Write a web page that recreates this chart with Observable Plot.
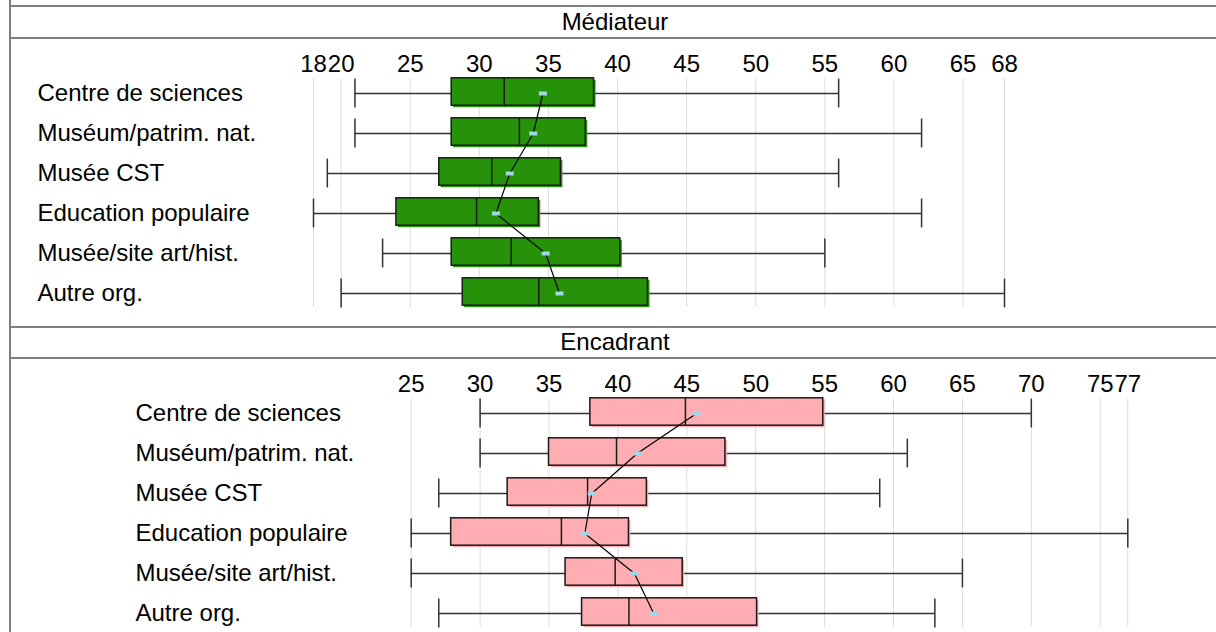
<!DOCTYPE html>
<html><head><meta charset="utf-8">
<script src="https://cdn.jsdelivr.net/npm/d3@7"></script>
<script src="https://cdn.jsdelivr.net/npm/@observablehq/plot@0.6"></script>
<style>
html,body{margin:0;padding:0;background:#fff;overflow:hidden;width:1216px;height:632px;font-family:"Liberation Sans",Arial,sans-serif;}
#page{position:relative;width:1216px;height:632px;overflow:hidden;}
.vline{position:absolute;left:9px;top:0;width:2px;height:632px;background:#808080;}
.hline{position:absolute;left:9px;width:1300px;height:2px;background:#808080;}
.head{position:absolute;left:11px;width:1208px;height:30px;line-height:30px;text-align:center;font-size:24px;color:#000;white-space:nowrap;}
.panel{position:absolute;left:0;width:1216px;}
</style></head>
<body>
<div id="page">
  <div class="vline"></div>
  <div class="hline" style="top:5px"></div>
  <div class="head" style="top:7px">Médiateur</div>
  <div class="hline" style="top:37px"></div>
  <div class="panel" id="p1" style="top:39px"></div>
  <div class="hline" style="top:326px"></div>
  <div class="head" style="top:327px">Encadrant</div>
  <div class="hline" style="top:357px"></div>
  <div class="panel" id="p2" style="top:359px"></div>
</div>
<script>
const categories = ["Centre de sciences","Muséum/patrim. nat.","Musée CST","Education populaire","Musée/site art/hist.","Autre org."];

// Médiateur
const medTicks = [18,20,25,30,35,40,45,50,55,60,65,68];
const medMin = [21,21,19,18,23,20];
const medQ1 = [28,28,27.1,24,28,28.8];
const medMedian = [31.8,32.9,30.9,29.8,32.3,34.3];
const medQ3 = [38.3,37.7,35.9,34.3,40.2,42.2];
const medMax = [56,62,56,62,55,68];
const medMean = [34.6,33.9,32.2,31.2,34.8,35.8];

// Encadrant
const encTicks = [25,30,35,40,45,50,55,60,65,70,75,77];
const encMin = [30,30,27,25,25,27];
const encQ1 = [38,35,32,27.9,36.2,37.4];
const encMedian = [44.9,39.9,37.8,35.9,39.8,40.8];
const encQ3 = [54.9,47.8,42.1,40.8,44.7,50.1];
const encMax = [70,61,59,77,65,63];
const encMean = [45.7,41.4,38.1,37.6,41.2,42.6];

const rectSym = {draw(ctx){ ctx.rect(-4,-2,8,4); }};

function panel(sel, cfg){
  const rows = categories.map((c,i)=>({cat:c, lo:cfg.min[i], q1:cfg.q1[i], med:cfg.median[i], q3:cfg.q3[i], hi:cfg.max[i], mean:cfg.mean[i]}));
  const ink = "#1a1a1a";
  const boxIns = {insetTop:4.8, insetBottom:7.8};
  const plot = Plot.plot({
    width:1216, height:287,
    marginLeft:cfg.ml, marginRight:cfg.mr, marginTop:33, marginBottom:12.7,
    x:{domain:[cfg.ticks[0], cfg.ticks[cfg.ticks.length-1]], axis:null},
    y:{domain:categories, axis:null, padding:0},
    style:{fontFamily:'"Liberation Sans",Arial,sans-serif', fontSize:"24px", background:"transparent", overflow:"visible", color:"#000"},
    marks:[
      Plot.ruleX(cfg.ticks, {x:d=>d, stroke:"#dcdcdc", strokeWidth:1, strokeOpacity:1, insetTop:6.3, insetBottom:6.6}),
      Plot.text(cfg.ticks, {x:d=>d, text:d=>String(d), frameAnchor:"top", lineAnchor:"bottom", dy:-1, fontSize:24, fill:"#000"}),
      Plot.text(rows, {y:"cat", text:"cat", frameAnchor:"left", textAnchor:"start", dx:cfg.labelX - cfg.ml, fontSize:24, fill:"#000"}),
      Plot.ruleY(rows, {y:"cat", x1:"lo", x2:"q1", stroke:"#333", strokeWidth:1.5}),
      Plot.ruleY(rows, {y:"cat", x1:"q3", x2:"hi", stroke:"#333", strokeWidth:1.5}),
      Plot.tickX(rows, {x:"lo", y:"cat", stroke:"#333", strokeWidth:1.5, insetTop:5.6, insetBottom:5.6}),
      Plot.tickX(rows, {x:"hi", y:"cat", stroke:"#333", strokeWidth:1.5, insetTop:5.6, insetBottom:5.6}),
      Plot.barX(rows, {y:"cat", x1:"q1", x2:"q3", fill:cfg.fill, dx:2, dy:2, ...boxIns}),
      Plot.barX(rows, {y:"cat", x1:"q1", x2:"q3", fill:cfg.fill, stroke:ink, strokeWidth:1.5, ...boxIns}),
      Plot.tickX(rows, {x:"med", y:"cat", stroke:ink, strokeWidth:1.5, ...boxIns}),
      Plot.line(rows, {x:"mean", y:"cat", stroke:"#000", strokeWidth:1.2, curve:"linear"}),
      Plot.dot(rows, {x:"mean", y:"cat", symbol:rectSym, fill:"#9fd9e8", stroke:null})
    ]
  });
  document.querySelector(sel).appendChild(plot);
}

panel("#p1", {ticks:medTicks, min:medMin, q1:medQ1, median:medMedian, q3:medQ3, max:medMax, mean:medMean, ml:313, mr:212, labelX:37, fill:"#26920a"});
panel("#p2", {ticks:encTicks, min:encMin, q1:encQ1, median:encMedian, q3:encQ3, max:encMax, mean:encMean, ml:410.7, mr:88.7, labelX:135, fill:"#ffadb3"});
</script>
</body></html>
